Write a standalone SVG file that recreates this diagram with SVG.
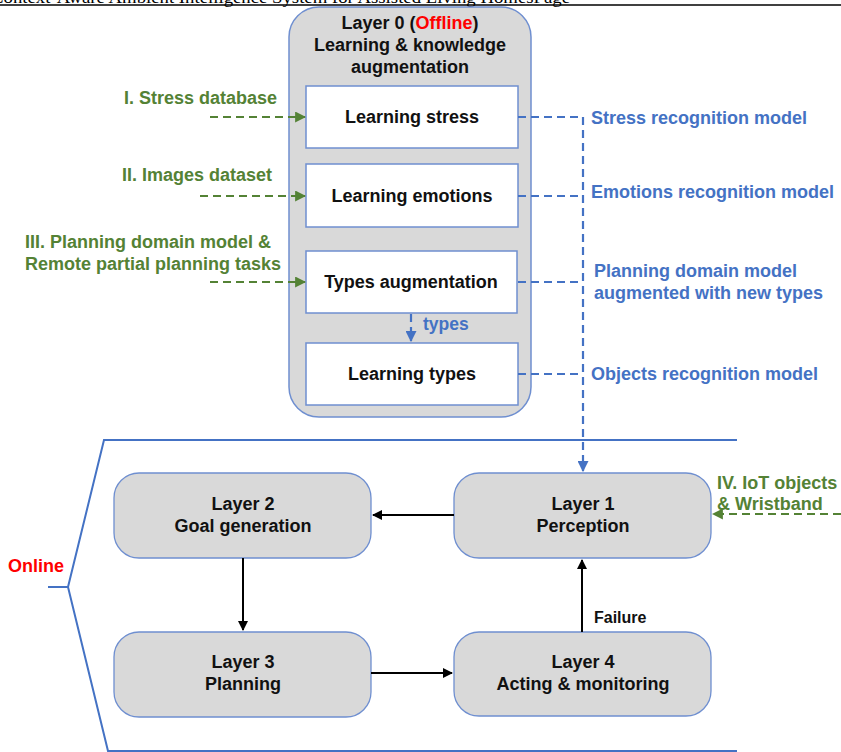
<svg xmlns="http://www.w3.org/2000/svg" width="841" height="752" viewBox="0 0 841 752">
  <style>
    .hdr { font-family: "Liberation Serif", "Times New Roman", serif; font-size: 17px; fill: #000; }
    .t { font-family: "Liberation Sans", Arial, sans-serif; font-weight: bold; font-size: 18px; fill: #111; text-anchor: middle; }
    .g { font-family: "Liberation Sans", Arial, sans-serif; font-weight: bold; font-size: 18px; fill: #548235; }
    .b { font-family: "Liberation Sans", Arial, sans-serif; font-weight: bold; font-size: 18px; fill: #4472c4; }
    .red { fill: #ff0000; }
    .outer { fill: #d9d9d9; stroke: #6f8fd0; stroke-width: 1.5; }
    .inner { fill: #ffffff; stroke: #6f8fd0; stroke-width: 1.5; }
    .layer { fill: #d9d9d9; stroke: #6f8fd0; stroke-width: 1.3; }
    .gd { fill: none; stroke: #548235; stroke-width: 2.2; stroke-dasharray: 8 5; }
    .bd { fill: none; stroke: #4472c4; stroke-width: 2.2; stroke-dasharray: 8 5; }
    .bk { fill: none; stroke: #000; stroke-width: 2; }
    .bl { fill: none; stroke: #4472c4; stroke-width: 2; }
  </style>
  <defs>
    <marker id="ahG" viewBox="0 0 10 10" refX="9" refY="5" markerWidth="5" markerHeight="5" orient="auto" markerUnits="strokeWidth">
      <path d="M0,0 L10,5 L0,10 z" fill="#548235"/>
    </marker>
    <marker id="ahB" viewBox="0 0 10 10" refX="9" refY="5" markerWidth="5" markerHeight="5" orient="auto" markerUnits="strokeWidth">
      <path d="M0,0 L10,5 L0,10 z" fill="#4472c4"/>
    </marker>
    <marker id="ahK" viewBox="0 0 10 10" refX="9" refY="5" markerWidth="5" markerHeight="5" orient="auto" markerUnits="strokeWidth">
      <path d="M0,0 L10,5 L0,10 z" fill="#000"/>
    </marker>
  </defs>

  <rect x="0" y="0" width="841" height="752" fill="#ffffff"/>

  <!-- running page header, clipped by the top edge -->
  <text class="hdr" x="-9" y="2.5" textLength="579" lengthAdjust="spacingAndGlyphs">Context-Aware Ambient Intelligence System for Assisted Living HomesPage</text>
  <line x1="0" y1="5" x2="841" y2="5" stroke="#000" stroke-width="1.5"/>

  <!-- Layer 0: offline learning -->
  <g id="layer0">
    <rect class="outer" x="289" y="7" width="242" height="410" rx="30" ry="30"/>
    <text class="t" x="410" y="29">Layer 0 (<tspan class="red">Offline</tspan>)</text>
    <text class="t" x="410" y="51">Learning &amp; knowledge</text>
    <text class="t" x="410" y="73">augmentation</text>
  </g>
  <g id="learning-stress">
    <rect class="inner" x="306" y="86" width="212" height="62"/>
    <text class="t" x="412" y="123">Learning stress</text>
  </g>
  <g id="learning-emotions">
    <rect class="inner" x="306" y="164" width="212" height="63"/>
    <text class="t" x="412" y="202">Learning emotions</text>
  </g>
  <g id="types-augmentation">
    <rect class="inner" x="306" y="251" width="211" height="62"/>
    <text class="t" x="411" y="288">Types augmentation</text>
  </g>
  <g id="learning-types">
    <rect class="inner" x="306" y="343" width="212" height="62"/>
    <text class="t" x="412" y="380">Learning types</text>
  </g>

  <!-- online layers -->
  <g id="layer2">
    <rect class="layer" x="114" y="473" width="257" height="85" rx="25" ry="25"/>
    <text class="t" x="243" y="510">Layer 2</text>
    <text class="t" x="243" y="532">Goal generation</text>
  </g>
  <g id="layer1">
    <rect class="layer" x="454" y="473" width="257" height="85" rx="25" ry="25"/>
    <text class="t" x="583" y="510">Layer 1</text>
    <text class="t" x="583" y="532">Perception</text>
  </g>
  <g id="layer3">
    <rect class="layer" x="114" y="632" width="257" height="85" rx="25" ry="25"/>
    <text class="t" x="243" y="668">Layer 3</text>
    <text class="t" x="243" y="690">Planning</text>
  </g>
  <g id="layer4">
    <rect class="layer" x="454" y="632" width="257" height="84" rx="25" ry="25"/>
    <text class="t" x="583" y="668">Layer 4</text>
    <text class="t" x="583" y="690">Acting &amp; monitoring</text>
  </g>

  <!-- online bracket -->
  <g id="online-bracket">
    <path class="bl" d="M737,440 L104,440 L68,587 L108,751 L737,751"/>
    <line class="bl" x1="48" y1="587" x2="68" y2="587"/>
    <text class="t red" x="8" y="572" style="text-anchor:start">Online</text>
  </g>

  <g id="connectors">
    <!-- external inputs -->
    <line class="gd" x1="210" y1="117" x2="305" y2="117" marker-end="url(#ahG)"/>
    <line class="gd" x1="200" y1="196" x2="305" y2="196" marker-end="url(#ahG)"/>
    <line class="gd" x1="210" y1="282" x2="305" y2="282" marker-end="url(#ahG)"/>
    <line class="gd" x1="841" y1="514" x2="713" y2="514" marker-end="url(#ahG)"/>

    <!-- learned models -->
    <line class="bd" x1="518" y1="117" x2="583" y2="117"/>
    <line class="bd" x1="518" y1="196" x2="583" y2="196"/>
    <line class="bd" x1="518" y1="282" x2="583" y2="282"/>
    <line class="bd" x1="518" y1="374" x2="583" y2="374"/>
    <line class="bd" x1="583" y1="117" x2="583" y2="471" marker-end="url(#ahB)"/>
    <line class="bd" x1="411" y1="314" x2="411" y2="341" marker-end="url(#ahB)"/>

    <!-- online cycle -->
    <line class="bk" x1="454" y1="515" x2="373" y2="515" marker-end="url(#ahK)"/>
    <line class="bk" x1="243" y1="558" x2="243" y2="630" marker-end="url(#ahK)"/>
    <line class="bk" x1="371" y1="673" x2="452" y2="673" marker-end="url(#ahK)"/>
    <line class="bk" x1="582" y1="632" x2="582" y2="560" marker-end="url(#ahK)"/>
    <text class="t" x="594" y="623" style="text-anchor:start;font-size:16px">Failure</text>
  </g>

  <!-- connector labels -->
  <g id="labels">
    <text class="g" x="277" y="104" style="text-anchor:end">I. Stress database</text>
    <text class="g" x="272" y="181" style="text-anchor:end">II. Images dataset</text>
    <text class="g" x="25" y="248">III. Planning domain model &amp;</text>
    <text class="g" x="25" y="270">Remote partial planning tasks</text>
    <text class="g" x="717" y="489">IV. IoT objects</text>
    <text class="g" x="717" y="510">&amp; Wristband</text>

    <text class="b" x="591" y="124">Stress recognition model</text>
    <text class="b" x="591" y="198">Emotions recognition model</text>
    <text class="b" x="594" y="277">Planning domain model</text>
    <text class="b" x="594" y="299">augmented with new types</text>
    <text class="b" x="591" y="380">Objects recognition model</text>
    <text class="b" x="423" y="330" style="font-size:17.5px">types</text>
  </g>
</svg>
